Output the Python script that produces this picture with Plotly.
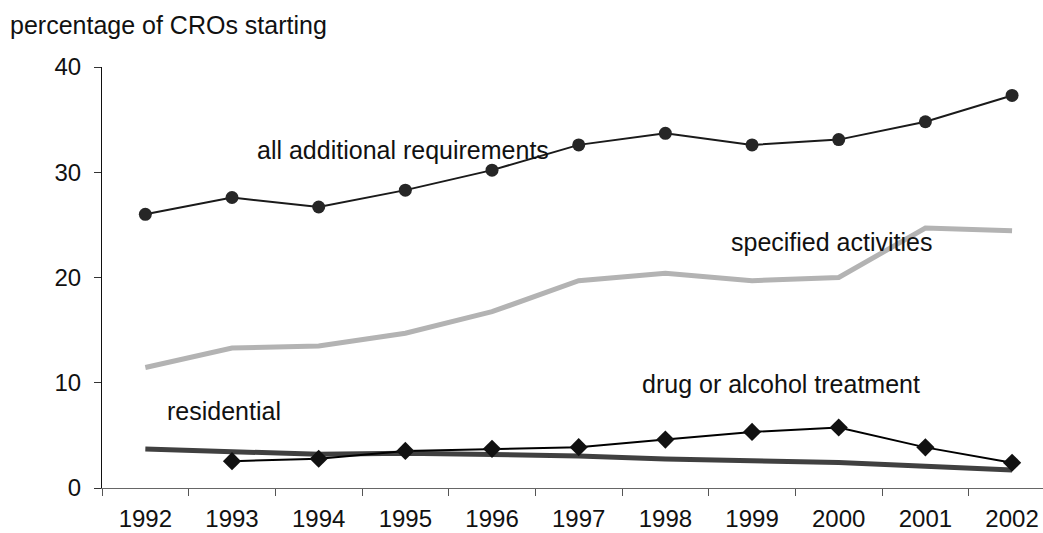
import plotly.graph_objects as go

years = ["1992", "1993", "1994", "1995", "1996", "1997", "1998", "1999", "2000", "2001", "2002"]
all_additional = [26.0, 27.6, 26.7, 28.3, 30.2, 32.6, 33.7, 32.6, 33.1, 34.8, 37.3]
specified_activities = [11.45, 13.3, 13.5, 14.7, 16.75, 19.7, 20.4, 19.7, 20.0, 24.7, 24.45]
residential = [3.7, 3.45, 3.2, 3.3, 3.15, 3.05, 2.75, 2.57, 2.42, 2.06, 1.7]
drug_alcohol = [None, 2.55, 2.78, 3.52, 3.72, 3.88, 4.6, 5.33, 5.75, 3.86, 2.4]
y_ticks = [0, 10, 20, 30, 40]

FONT = "Liberation Sans, Arial, sans-serif"
FS_TICK = 24
FS_TEXT = 25

fig = go.Figure()
fig.add_trace(go.Scatter(x=years, y=specified_activities, mode="lines",
                         line=dict(color="#b3b3b3", width=5)))
fig.add_trace(go.Scatter(x=years, y=residential, mode="lines",
                         line=dict(color="#404040", width=5)))
fig.add_trace(go.Scatter(x=years, y=all_additional, mode="lines+markers",
                         line=dict(color="#1a1a1a", width=2),
                         marker=dict(symbol="circle", size=13, color="#262626")))
fig.add_trace(go.Scatter(x=years, y=drug_alcohol, mode="lines+markers",
                         line=dict(color="#000000", width=2),
                         marker=dict(symbol="diamond", size=14, color="#111111")))

labels = [
    ("all additional requirements", 1.27, 32.1),
    ("specified activities", 6.73, 23.4),
    ("residential", 0.23, 7.3),
    ("drug or alcohol treatment", 5.71, 9.92),
]
for txt, x, y in labels:
    fig.add_annotation(x=x, y=y, xref="x", yref="y", text=txt, showarrow=False,
                       xanchor="left", yanchor="middle",
                       font=dict(family=FONT, size=FS_TEXT, color="#111111"))

fig.add_annotation(x=-0.0995, y=1.1006, xref="paper", yref="paper",
                   text="percentage of CROs starting", showarrow=False,
                   xanchor="left", yanchor="middle",
                   font=dict(family=FONT, size=FS_TEXT, color="#111111"))

fig.update_layout(
    width=1043, height=533,
    margin=dict(l=102, r=0, t=67, b=45),
    paper_bgcolor="white", plot_bgcolor="white",
    showlegend=False,
    font=dict(family=FONT, size=FS_TICK, color="#111111"),
    xaxis=dict(type="category", categoryorder="array", categoryarray=years,
               range=[-0.5, 10.357], tickson="boundaries", ticks="outside",
               ticklen=7, tickcolor="#555555", showline=True, linecolor="#666666",
               linewidth=1, showgrid=False, zeroline=False, ticklabelstandoff=9,
               automargin=False,
               tickfont=dict(family=FONT, size=FS_TICK, color="#111111"),
               fixedrange=True),
    yaxis=dict(range=[0, 40], tickvals=y_ticks, ticks="outside", ticklen=7,
               tickcolor="#333333", showline=True, linecolor="#111111", linewidth=1,
               showgrid=False, zeroline=False, ticklabelstandoff=8,
               automargin=False,
               tickfont=dict(family=FONT, size=FS_TICK, color="#111111"),
               fixedrange=True),
)

fig.write_html("out.html", config={"displayModeBar": False},
               post_script="document.body.style.margin='0';document.body.style.overflow='hidden';")
